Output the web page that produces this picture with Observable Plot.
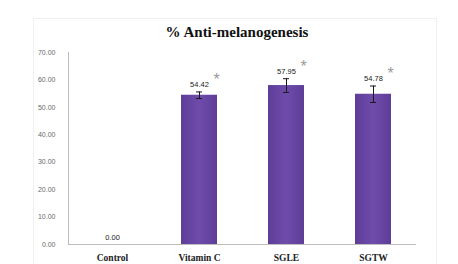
<!DOCTYPE html>
<html>
<head>
<meta charset="utf-8">
<script src="https://cdn.jsdelivr.net/npm/d3@7"></script>
<script src="https://cdn.jsdelivr.net/npm/@observablehq/plot@0.6"></script>
<style>
  html, body { margin: 0; padding: 0; background: #fff; }
  #wrap { position: relative; width: 458px; height: 264px; overflow: hidden; }
  #box { position: absolute; left: 33px; top: 18px; width: 404px; height: 250px; border: 1px solid #f0f0f0; box-sizing: border-box; }
  #title { position: absolute; left: 0; width: 474px; top: 24px; text-align: center;
    font-family: "Liberation Serif", serif; font-weight: bold; font-size: 15px; color: #111; }
  #chart { position: absolute; left: 0; top: 0; }
</style>
</head>
<body>
<div id="wrap">
  <div id="box"></div>
  <div id="title">% Anti-melanogenesis</div>
  <div id="chart"></div>
</div>
<script>
const categories = ["Control", "Vitamin C", "SGLE", "SGTW"];
const values = [0, 54.42, 57.95, 54.78];
const errors = [0, 1.2, 2.5, 3.0];
const valueLabels = ["0.00", "54.42", "57.95", "54.78"];
const significant = [false, true, true, true];
const yTicks = [0, 10, 20, 30, 40, 50, 60, 70];

const data = categories.map((c, i) => ({
  cat: c, v: values[i], e: errors[i], label: valueLabels[i], sig: significant[i]
}));
const withErr = data.filter(d => d.e > 0);

const plot = Plot.plot({
  width: 458,
  height: 264,
  marginTop: 52,
  marginBottom: 20,
  marginLeft: 68,
  marginRight: 42,
  style: { background: "transparent", fontFamily: "Liberation Sans, sans-serif" },
  x: { domain: categories, paddingInner: 0.59, paddingOuter: 0.295, label: null },
  y: { domain: [0, 70], label: null },
  marks: [
    Plot.barY(data, { x: "cat", y: "v", fill: "url(#barGrad)" }),
    Plot.ruleX(withErr, { x: "cat", y1: d => d.v - d.e, y2: d => d.v + d.e, stroke: "#1a1a1a", strokeWidth: 1 }),
    Plot.tickY(withErr, { x: "cat", y: d => d.v + d.e, stroke: "#1a1a1a", insetLeft: 15, insetRight: 15 }),
    Plot.tickY(withErr, { x: "cat", y: d => d.v - d.e, stroke: "#1a1a1a", insetLeft: 15, insetRight: 15 }),
    Plot.text(data, { x: "cat", y: d => d.v + d.e, text: "label", dy: -7, fontSize: 7.5, fill: "#222" }),
    Plot.text(data.filter(d => d.sig), { x: "cat", y: d => d.v + d.e, text: () => "*", dx: 17, dy: -12, fontSize: 16, fill: "#9a9a9a" }),
    Plot.axisY({ ticks: yTicks, tickFormat: d3.format(".2f"), tickSize: 0, tickPadding: 13, fontSize: 7, fill: "#6a6a6a" }),
    Plot.axisX({ tickSize: 0, tickPadding: 10, fontSize: 9.5, fontWeight: "bold", fontFamily: "Liberation Serif, serif", fill: "#222" }),
    Plot.ruleY([0], { stroke: "#bdbdbd" }),
    Plot.frame({ anchor: "left", stroke: "#bdbdbd" })
  ]
});

const ns = "http://www.w3.org/2000/svg";
const defs = document.createElementNS(ns, "defs");
defs.innerHTML = `<linearGradient id="barGrad" x1="0" x2="1" y1="0" y2="0">
  <stop offset="0" stop-color="#5e3d98"/>
  <stop offset="0.5" stop-color="#6f4cab"/>
  <stop offset="1" stop-color="#5e3d98"/>
</linearGradient>`;
plot.insertBefore(defs, plot.firstChild);
document.getElementById("chart").appendChild(plot);
</script>
</body>
</html>
